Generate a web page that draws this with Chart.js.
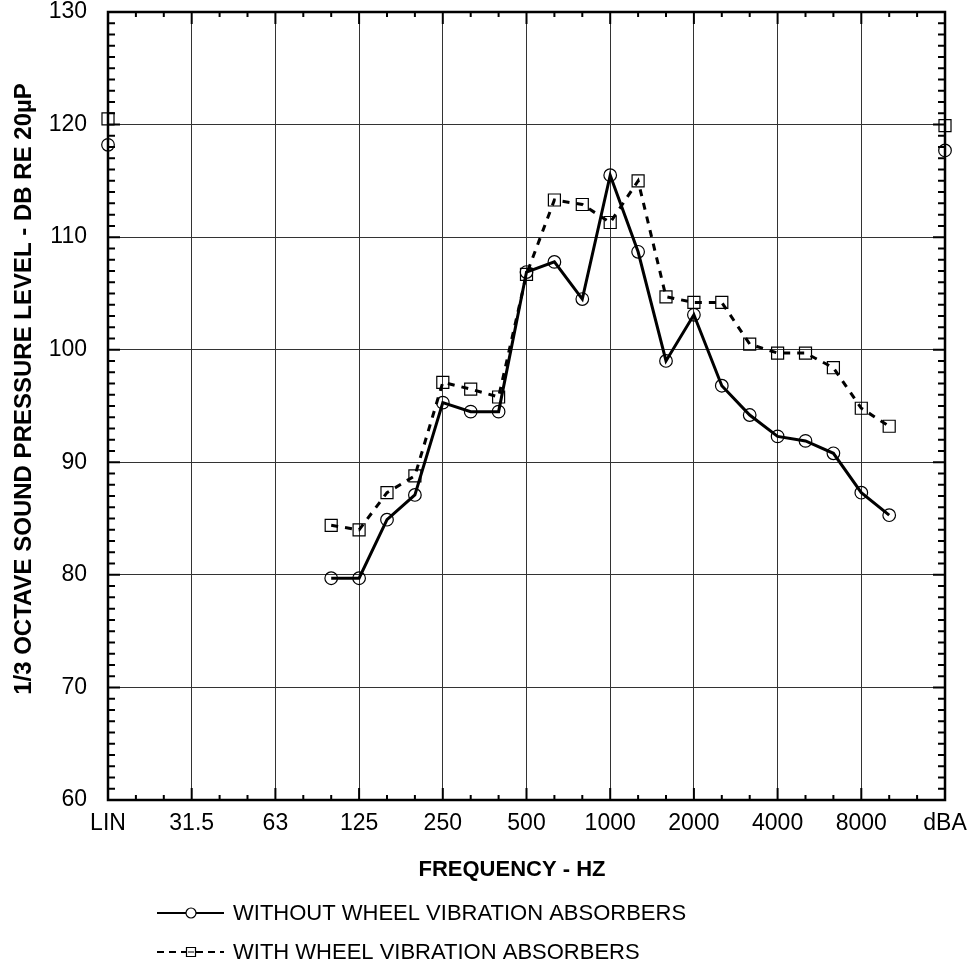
<!DOCTYPE html>
<html>
<head>
<meta charset="utf-8">
<script src="https://cdn.jsdelivr.net/npm/chart.js@4.4.1/dist/chart.umd.min.js"></script>
<style>
  html, body { margin: 0; padding: 0; background: #fff; }
  canvas { display: block; }
</style>
</head>
<body>
<canvas id="spl" width="967" height="967"></canvas>
<script>
// 1/3 octave bands, LIN and dBA overall levels sit at the two ends
const bands = ['LIN', '20', '25', '31.5', '40', '50', '63', '80', '100', '125', '160', '200', '250',
  '315', '400', '500', '630', '800', '1000', '1250', '1600', '2000', '2500', '3150', '4000', '5000',
  '6300', '8000', '10000', '12500', 'dBA'];

// levels in dB re 20 uPa, null where no band was measured
const withoutAbsorbers = [118.2, null, null, null, null, null, null, null,
  79.7, 79.7, 84.9, 87.1, 95.3, 94.5, 94.5, 106.9, 107.8, 104.5, 115.5, 108.7,
  99.0, 103.1, 96.8, 94.2, 92.3, 91.9, 90.8, 87.3, 85.3, null, 117.7];
const withAbsorbers = [120.5, null, null, null, null, null, null, null,
  84.4, 84.0, 87.3, 88.8, 97.1, 96.5, 95.8, 106.7, 113.3, 112.9, 111.3, 115.0,
  104.7, 104.2, 104.2, 100.5, 99.7, 99.7, 98.4, 94.8, 93.2, null, 119.9];

const yMin = 60;
const yMax = 130;

const xTitle = 'FREQUENCY - HZ';
const yTitle = '1/3 OCTAVE SOUND PRESSURE LEVEL - DB RE 20\u00B5P';

const FONT = '"Liberation Sans", Arial, Helvetica, sans-serif';

// frame plus the short inward ticks on all four sides
const frameTicks = {
  id: 'frameTicks',
  beforeDatasetsDraw(chart) {
    const { ctx, chartArea: a, scales: { x, y } } = chart;
    ctx.save();
    ctx.strokeStyle = '#000';
    ctx.lineWidth = 2;
    ctx.beginPath();
    for (let v = yMin; v <= yMax; v++) {
      const py = y.getPixelForValue(v);
      const len = v % 10 === 0 ? 12 : 7;
      ctx.moveTo(a.left, py); ctx.lineTo(a.left + len, py);
      ctx.moveTo(a.right, py); ctx.lineTo(a.right - len, py);
    }
    bands.forEach((b, i) => {
      const px = x.getPixelForValue(i);
      const len = i % 3 === 0 ? 12 : 5;
      ctx.moveTo(px, a.bottom); ctx.lineTo(px, a.bottom - len);
      ctx.moveTo(px, a.top); ctx.lineTo(px, a.top + len);
    });
    ctx.stroke();
    ctx.lineWidth = 2.5;
    ctx.strokeRect(a.left, a.top, a.width, a.height);
    ctx.restore();
  }
};

// axis titles and the legend underneath
const titlesLegend = {
  id: 'titlesLegend',
  afterDraw(chart) {
    const ctx = chart.ctx;
    ctx.save();
    ctx.fillStyle = '#000';
    ctx.textAlign = 'center';
    ctx.textBaseline = 'middle';

    ctx.font = 'bold 22px ' + FONT;
    ctx.fillText(xTitle, 512, 870);

    ctx.save();
    ctx.translate(24, 389);
    ctx.rotate(-Math.PI / 2);
    ctx.font = 'bold 24px ' + FONT;
    ctx.fillText(yTitle, 0, 0);
    ctx.restore();

    const rows = [
      { text: 'WITHOUT WHEEL VIBRATION ABSORBERS', dash: [], marker: 'circle', y: 913 },
      { text: 'WITH WHEEL VIBRATION ABSORBERS', dash: [7, 5], marker: 'rect', y: 952 }
    ];
    rows.forEach(r => {
      ctx.strokeStyle = '#000';
      ctx.lineWidth = 2;
      ctx.setLineDash(r.dash);
      ctx.beginPath();
      ctx.moveTo(157, r.y); ctx.lineTo(186, r.y);
      ctx.moveTo(196, r.y); ctx.lineTo(224, r.y);
      ctx.stroke();
      ctx.setLineDash([]);
      ctx.lineWidth = 1.2;
      ctx.beginPath();
      if (r.marker === 'circle') {
        ctx.arc(191, r.y, 5, 0, Math.PI * 2);
      } else {
        ctx.rect(186.5, r.y - 4.5, 9, 9);
        ctx.moveTo(188, r.y); ctx.lineTo(194, r.y);
      }
      ctx.stroke();
      ctx.font = '22px ' + FONT;
      ctx.textAlign = 'left';
      ctx.fillText(r.text, 233, r.y + 1);
    });
    ctx.restore();
  }
};

new Chart(document.getElementById('spl'), {
  type: 'line',
  data: {
    labels: bands,
    datasets: [
      {
        label: 'WITHOUT WHEEL VIBRATION ABSORBERS',
        data: withoutAbsorbers,
        borderColor: '#000',
        borderWidth: 3,
        backgroundColor: 'rgba(0,0,0,0)',
        pointStyle: 'circle',
        pointRadius: 6.3,
        pointBorderWidth: 1.2,
        pointBorderColor: '#000',
        tension: 0,
        spanGaps: false,
        clip: false
      },
      {
        label: 'WITH WHEEL VIBRATION ABSORBERS',
        data: withAbsorbers,
        borderColor: '#000',
        borderWidth: 3,
        borderDash: [7, 7],
        backgroundColor: 'rgba(0,0,0,0)',
        pointStyle: 'rect',
        pointRadius: 8.5,
        pointBorderWidth: 1.2,
        pointBorderColor: '#000',
        tension: 0,
        spanGaps: false,
        clip: false
      }
    ]
  },
  options: {
    responsive: false,
    animation: false,
    layout: { padding: { left: 0, top: 12, right: 22, bottom: 67 } },
    plugins: {
      legend: { display: false },
      tooltip: { enabled: false }
    },
    scales: {
      x: {
        type: 'category',
        offset: false,
        border: { display: false },
        grid: {
          drawTicks: false,
          lineWidth: 1,
          color: ctx => (ctx.index % 3 === 0 ? '#333' : 'rgba(0,0,0,0)')
        },
        ticks: {
          autoSkip: false,
          maxRotation: 0,
          padding: 10,
          color: '#000',
          font: { family: FONT, size: 23 },
          callback: (val, i) => (i % 3 === 0 ? bands[i] : '')
        },
        afterFit: s => {
          s.height = 100;
          s.paddingLeft = 20;
          s.paddingRight = 20;
        }
      },
      y: {
        min: yMin,
        max: yMax,
        border: { display: false },
        grid: { drawTicks: false, lineWidth: 1, color: '#333' },
        ticks: {
          stepSize: 10,
          padding: 21,
          color: '#000',
          font: { family: FONT, size: 23, lineHeight: 1 }
        },
        afterFit: s => {
          s.width = 108;
          s.paddingTop = 11;
          s.paddingBottom = 11;
        }
      }
    }
  },
  plugins: [frameTicks, titlesLegend]
});
</script>
</body>
</html>
